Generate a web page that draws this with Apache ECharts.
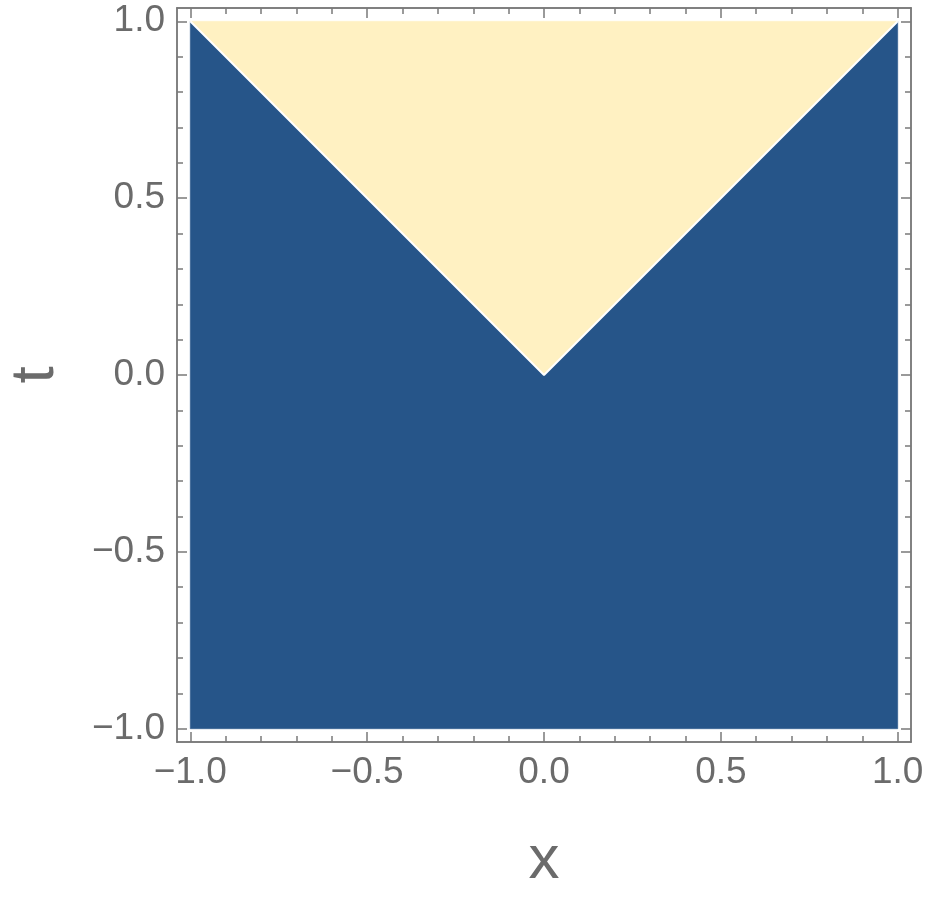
<!DOCTYPE html>
<html>
<head>
<meta charset="utf-8">
<script src="https://cdn.jsdelivr.net/npm/echarts@6/dist/echarts.min.js"></script>
<style>
html,body{margin:0;padding:0;background:#fff;}
#main{width:926px;height:898px;}
</style>
</head>
<body>
<div id="main"></div>
<script>
// region where t <= |x| (dark) and t > |x| (light), corners of each polygon
const darkX = [-1, -1, 0, 1, 1];
const darkT = [-1, 1, 0, 1, -1];
const lightX = [-1, 0, 1];
const lightT = [1, 0, 1];
// tick positions
const majorTicks = [-1, -0.5, 0, 0.5, 1];
const minorTicks = [-1, -0.9, -0.8, -0.7, -0.6, -0.5, -0.4, -0.3, -0.2, -0.1, 0, 0.1, 0.2, 0.3, 0.4, 0.5, 0.6, 0.7, 0.8, 0.9, 1];
const tickLabels = ['\u22121.0', '\u22120.5', '0.0', '0.5', '1.0'];

const axMin = -1.0375, axMax = 1.0375;
const gray = '#6b6b6b';
const frameColor = '#7a7a7a';

function fmt(v) {
    const i = majorTicks.indexOf(Math.round(v * 10) / 10);
    return i >= 0 ? tickLabels[i] : '';
}

function makeAxis(pos, major, showLabel, name) {
    const ax = {
        type: 'value',
        min: axMin,
        max: axMax,
        position: pos,
        splitLine: { show: false },
        axisLine: { show: true, onZero: false, lineStyle: { color: frameColor, width: 1.5 } },
        axisTick: {
            show: true,
            inside: true,
            length: major ? 10 : 6,
            customValues: major ? majorTicks : minorTicks,
            lineStyle: { color: frameColor, width: 1.5 }
        },
        axisLabel: {
            show: showLabel,
            customValues: majorTicks,
            formatter: fmt,
            color: gray,
            fontFamily: 'Liberation Sans',
            fontSize: 37,
            margin: 12
        }
    };
    if (name) {
        ax.name = name;
        ax.nameLocation = 'middle';
        ax.nameTextStyle = { color: gray, fontFamily: 'Liberation Sans', fontSize: 62 };
    }
    return ax;
}

function polySeries(xs, ts, color) {
    return {
        type: 'custom',
        silent: true,
        data: [0],
        renderItem: function (params, api) {
            const pts = xs.map(function (x, i) { return api.coord([x, ts[i]]); });
            return {
                type: 'polygon',
                shape: { points: pts },
                style: { fill: color, stroke: color, lineWidth: 0.5 }
            };
        }
    };
}

const chart = echarts.init(document.getElementById('main'));

const xb = makeAxis('bottom', true, true, 'x');
xb.nameGap = 88;
const yl = makeAxis('left', true, true, 't');
yl.nameGap = 110;

chart.setOption({
    animation: false,
    grid: { left: 177, right: 15, top: 8, bottom: 156, containLabel: false, outerBoundsMode: 'none' },
    xAxis: [xb, makeAxis('bottom', false, false), makeAxis('top', true, false), makeAxis('top', false, false)],
    yAxis: [yl, makeAxis('left', false, false), makeAxis('right', true, false), makeAxis('right', false, false)],
    series: [
        polySeries(darkX, darkT, '#265589'),
        polySeries(lightX, lightT, '#fff1c2'),
        {
            type: 'line',
            silent: true,
            symbol: 'none',
            data: lightX.map(function (x, i) { return [x, lightT[i]]; }),
            lineStyle: { color: '#ffffff', width: 2 }
        }
    ]
});
</script>
</body>
</html>
